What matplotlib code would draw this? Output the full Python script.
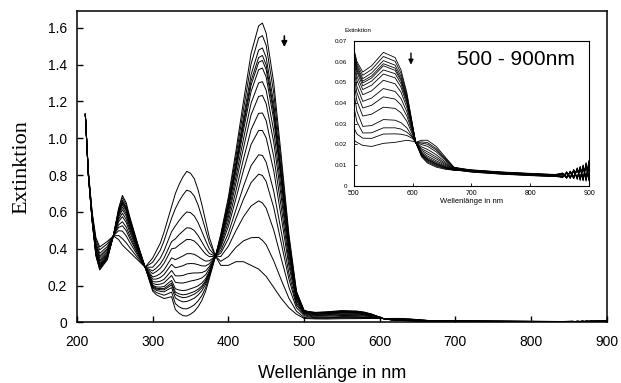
import numpy as np
import matplotlib
matplotlib.use("Agg")
import matplotlib.pyplot as plt

plt.rcParams["font.family"] = ["Liberation Sans", "DejaVu Sans"]

# wavelengths (nm) of the UV part, one row of 15 spectra per wavelength
wl_uv = [211, 215, 220, 225, 230, 240, 248, 255, 260, 265, 270, 280, 290,
         300, 305, 310, 315, 320, 325, 330, 335, 340, 345, 350, 355, 360,
         365, 370, 375, 383, 390, 400, 410, 420, 430, 440, 445, 450, 460,
         470, 480, 490]
uv_abs = [
    [1.13] * 15,
    [0.80, 0.80, 0.80, 0.80, 0.80, 0.80, 0.80, 0.81, 0.81, 0.81, 0.81, 0.81, 0.81, 0.82, 0.82],
    [0.55, 0.55, 0.55, 0.56, 0.56, 0.56, 0.56, 0.56, 0.57, 0.57, 0.58, 0.58, 0.59, 0.59, 0.60],
    [0.36, 0.365, 0.37, 0.373, 0.375, 0.378, 0.384, 0.389, 0.396, 0.403, 0.413, 0.421, 0.432, 0.447, 0.46],
    [0.285, 0.291, 0.298, 0.301, 0.304, 0.308, 0.314, 0.321, 0.330, 0.339, 0.351, 0.361, 0.375, 0.394, 0.41],
    [0.34, 0.345, 0.35, 0.353, 0.355, 0.358, 0.364, 0.369, 0.376, 0.383, 0.393, 0.401, 0.412, 0.427, 0.44],
    [0.47] * 15,
    [0.62, 0.612, 0.603, 0.598, 0.595, 0.589, 0.58, 0.571, 0.559, 0.547, 0.53, 0.516, 0.498, 0.472, 0.45],
    [0.69, 0.677, 0.663, 0.655, 0.65, 0.641, 0.627, 0.612, 0.593, 0.574, 0.547, 0.525, 0.496, 0.455, 0.42],
    [0.65, 0.638, 0.625, 0.618, 0.613, 0.605, 0.591, 0.578, 0.56, 0.543, 0.518, 0.498, 0.47, 0.433, 0.40],
    [0.57, 0.561, 0.551, 0.545, 0.542, 0.536, 0.525, 0.515, 0.502, 0.488, 0.469, 0.454, 0.433, 0.405, 0.38],
    [0.43, 0.426, 0.421, 0.418, 0.417, 0.414, 0.409, 0.404, 0.398, 0.391, 0.382, 0.375, 0.365, 0.352, 0.34],
    [0.30] * 15,
    [0.17, 0.179, 0.188, 0.193, 0.197, 0.202, 0.212, 0.222, 0.235, 0.247, 0.265, 0.28, 0.30, 0.327, 0.35],
    [0.15, 0.162, 0.174, 0.181, 0.186, 0.193, 0.206, 0.22, 0.236, 0.253, 0.277, 0.296, 0.323, 0.359, 0.39],
    [0.14, 0.155, 0.169, 0.178, 0.184, 0.192, 0.208, 0.224, 0.244, 0.265, 0.294, 0.317, 0.349, 0.392, 0.43],
    [0.13, 0.148, 0.166, 0.177, 0.184, 0.195, 0.215, 0.234, 0.26, 0.285, 0.321, 0.35, 0.389, 0.443, 0.49],
    [0.135, 0.156, 0.178, 0.19, 0.199, 0.212, 0.235, 0.258, 0.288, 0.318, 0.36, 0.394, 0.441, 0.505, 0.56],
    [0.14, 0.165, 0.189, 0.204, 0.214, 0.228, 0.255, 0.282, 0.316, 0.351, 0.40, 0.439, 0.493, 0.566, 0.63],
    [0.07, 0.102, 0.133, 0.152, 0.165, 0.183, 0.218, 0.253, 0.297, 0.341, 0.404, 0.454, 0.524, 0.618, 0.70],
    [0.05, 0.085, 0.12, 0.141, 0.155, 0.176, 0.215, 0.253, 0.302, 0.351, 0.421, 0.477, 0.554, 0.659, 0.75],
    [0.037, 0.075, 0.112, 0.135, 0.15, 0.173, 0.214, 0.255, 0.308, 0.361, 0.436, 0.496, 0.579, 0.692, 0.79],
    [0.035, 0.074, 0.114, 0.137, 0.153, 0.176, 0.219, 0.263, 0.318, 0.373, 0.451, 0.514, 0.60, 0.718, 0.82],
    [0.045, 0.083, 0.122, 0.145, 0.16, 0.183, 0.225, 0.267, 0.32, 0.374, 0.45, 0.512, 0.596, 0.711, 0.81],
    [0.06, 0.096, 0.132, 0.154, 0.168, 0.19, 0.229, 0.269, 0.319, 0.37, 0.442, 0.499, 0.578, 0.686, 0.78],
    [0.085, 0.117, 0.149, 0.168, 0.18, 0.199, 0.234, 0.269, 0.314, 0.358, 0.422, 0.472, 0.542, 0.638, 0.72],
    [0.12, 0.146, 0.172, 0.188, 0.198, 0.214, 0.242, 0.271, 0.307, 0.344, 0.396, 0.437, 0.494, 0.572, 0.64],
    [0.17, 0.189, 0.208, 0.219, 0.227, 0.238, 0.259, 0.28, 0.307, 0.333, 0.371, 0.402, 0.444, 0.501, 0.55],
    [0.24, 0.251, 0.262, 0.269, 0.273, 0.28, 0.292, 0.304, 0.319, 0.335, 0.357, 0.374, 0.398, 0.431, 0.46],
    [0.36] * 15,
    [0.48, 0.472, 0.463, 0.458, 0.455, 0.449, 0.44, 0.431, 0.419, 0.407, 0.39, 0.376, 0.358, 0.332, 0.31],
    [0.68, 0.662, 0.643, 0.632, 0.625, 0.613, 0.593, 0.573, 0.547, 0.521, 0.484, 0.454, 0.414, 0.358, 0.31],
    [0.93, 0.90, 0.87, 0.852, 0.84, 0.822, 0.789, 0.756, 0.714, 0.672, 0.612, 0.564, 0.498, 0.408, 0.33],
    [1.20, 1.157, 1.113, 1.087, 1.07, 1.043, 0.996, 0.948, 0.887, 0.826, 0.739, 0.669, 0.574, 0.443, 0.33],
    [1.46, 1.403, 1.345, 1.311, 1.288, 1.253, 1.19, 1.127, 1.046, 0.966, 0.851, 0.759, 0.632, 0.46, 0.31],
    [1.61, 1.544, 1.478, 1.438, 1.412, 1.372, 1.30, 1.227, 1.135, 1.042, 0.91, 0.805, 0.66, 0.462, 0.29],
    [1.625, 1.557, 1.49, 1.449, 1.422, 1.381, 1.307, 1.232, 1.137, 1.042, 0.907, 0.798, 0.649, 0.446, 0.27],
    [1.57, 1.504, 1.438, 1.398, 1.372, 1.332, 1.26, 1.187, 1.095, 1.002, 0.87, 0.765, 0.62, 0.422, 0.25],
    [1.30, 1.245, 1.189, 1.156, 1.134, 1.10, 1.039, 0.978, 0.90, 0.823, 0.712, 0.623, 0.501, 0.334, 0.19],
    [0.90, 0.862, 0.823, 0.80, 0.785, 0.761, 0.719, 0.677, 0.623, 0.569, 0.492, 0.43, 0.346, 0.23, 0.13],
    [0.48, 0.46, 0.44, 0.428, 0.42, 0.408, 0.386, 0.364, 0.336, 0.308, 0.268, 0.236, 0.192, 0.132, 0.08],
    [0.17, 0.164, 0.158, 0.154, 0.151, 0.148, 0.141, 0.134, 0.125, 0.116, 0.104, 0.094, 0.08, 0.061, 0.045],
]

# visible part (500 - 840 nm)
wl_vis = [500, 505, 515, 530, 550, 570, 580, 590, 600, 605, 615, 625, 640,
          655, 670, 700, 750, 800, 840]
vis_abs = [
    [0.066, 0.065, 0.064, 0.063, 0.062, 0.061, 0.06, 0.058, 0.056, 0.053, 0.05, 0.045, 0.038, 0.028, 0.022],
    [0.06, 0.059, 0.058, 0.057, 0.056, 0.055, 0.053, 0.051, 0.048, 0.045, 0.041, 0.036, 0.031, 0.025, 0.021],
    [0.055, 0.0534, 0.0518, 0.0506, 0.0497, 0.0483, 0.0465, 0.044, 0.0408, 0.0376, 0.0337, 0.0287, 0.0255, 0.023, 0.0195],
    [0.058, 0.0562, 0.0545, 0.0531, 0.0521, 0.0506, 0.0486, 0.0459, 0.0424, 0.0389, 0.0346, 0.0291, 0.0256, 0.0229, 0.019],
    [0.0645, 0.0625, 0.0605, 0.059, 0.058, 0.056, 0.054, 0.051, 0.047, 0.043, 0.038, 0.032, 0.028, 0.025, 0.0205],
    [0.062, 0.0602, 0.0583, 0.0569, 0.0558, 0.0542, 0.0522, 0.0493, 0.0456, 0.0419, 0.0374, 0.0317, 0.028, 0.0251, 0.021],
    [0.056, 0.0544, 0.0529, 0.0517, 0.0508, 0.0494, 0.0477, 0.0453, 0.0422, 0.0391, 0.0353, 0.0305, 0.0274, 0.0249, 0.0215],
    [0.045, 0.044, 0.0429, 0.0421, 0.0415, 0.0406, 0.0395, 0.0379, 0.0358, 0.0337, 0.0312, 0.028, 0.0259, 0.0243, 0.022],
    [0.029, 0.0287, 0.0283, 0.0281, 0.0279, 0.0276, 0.0272, 0.0267, 0.026, 0.0253, 0.0245, 0.0235, 0.0233, 0.0228, 0.0215],
    [0.021] * 15,
    [0.014, 0.0144, 0.0147, 0.015, 0.0152, 0.0155, 0.0159, 0.0165, 0.0172, 0.0179, 0.0188, 0.0199, 0.0206, 0.0212, 0.022],
    [0.011, 0.0115, 0.012, 0.0124, 0.0127, 0.0131, 0.0136, 0.0144, 0.0154, 0.0164, 0.0176, 0.0191, 0.0201, 0.0209, 0.022],
    [0.009, 0.0095, 0.0099, 0.0103, 0.0105, 0.0109, 0.0114, 0.0121, 0.013, 0.0139, 0.015, 0.0164, 0.0173, 0.018, 0.019],
    [0.008, 0.0083, 0.0085, 0.0088, 0.0089, 0.0091, 0.0094, 0.0099, 0.0104, 0.0109, 0.0116, 0.0124, 0.013, 0.0134, 0.014],
    [0.0075, 0.0076, 0.0076, 0.0077, 0.0077, 0.0078, 0.0079, 0.008, 0.0081, 0.0082, 0.0084, 0.0086, 0.0087, 0.0089, 0.009],
    [0.0072, 0.0068, 0.0075, 0.007, 0.0066, 0.0073, 0.0069, 0.0076, 0.0071, 0.0067, 0.0074, 0.0070, 0.0077, 0.0072, 0.0075],
    [0.0062, 0.0058, 0.0065, 0.006, 0.0056, 0.0063, 0.0059, 0.0066, 0.0061, 0.0057, 0.0064, 0.006, 0.0067, 0.0062, 0.0065],
    [0.0055, 0.0051, 0.0058, 0.0053, 0.0049, 0.0056, 0.0052, 0.0059, 0.0054, 0.005, 0.0057, 0.0053, 0.006, 0.0055, 0.0058],
    [0.005, 0.0046, 0.0053, 0.0048, 0.0044, 0.0051, 0.0047, 0.0054, 0.0049, 0.0045, 0.0052, 0.0048, 0.0055, 0.005, 0.0053],
]

# noisy end of the spectra, one row per spectrum
wl_noise = [855, 862, 868, 874, 880, 885, 890, 895, 900]
noise_abs = [
    [0.0062, 0.0038, 0.0071, 0.0042, 0.0085, 0.0030, 0.0098, 0.0040, 0.0110],
    [0.0040, 0.0068, 0.0035, 0.0079, 0.0033, 0.0092, 0.0028, 0.0105, 0.0025],
    [0.0058, 0.0045, 0.0066, 0.0037, 0.0081, 0.0026, 0.0090, 0.0022, 0.0118],
    [0.0044, 0.0063, 0.0040, 0.0074, 0.0038, 0.0088, 0.0031, 0.0100, 0.0030],
    [0.0055, 0.0036, 0.0070, 0.0045, 0.0078, 0.0034, 0.0095, 0.0028, 0.0085],
    [0.0047, 0.0060, 0.0038, 0.0069, 0.0036, 0.0083, 0.0024, 0.0108, 0.0035],
    [0.0060, 0.0042, 0.0064, 0.0034, 0.0087, 0.0040, 0.0082, 0.0033, 0.0122],
    [0.0039, 0.0065, 0.0043, 0.0077, 0.0030, 0.0094, 0.0036, 0.0096, 0.0028],
    [0.0057, 0.0040, 0.0068, 0.0040, 0.0080, 0.0028, 0.0101, 0.0026, 0.0092],
    [0.0045, 0.0061, 0.0036, 0.0072, 0.0041, 0.0086, 0.0029, 0.0112, 0.0032],
    [0.0061, 0.0037, 0.0069, 0.0039, 0.0083, 0.0033, 0.0088, 0.0038, 0.0115],
    [0.0042, 0.0066, 0.0041, 0.0076, 0.0035, 0.0090, 0.0033, 0.0099, 0.0026],
    [0.0056, 0.0043, 0.0067, 0.0036, 0.0079, 0.0031, 0.0097, 0.0030, 0.0090],
    [0.0048, 0.0059, 0.0039, 0.0071, 0.0039, 0.0085, 0.0027, 0.0107, 0.0038],
    [0.0059, 0.0041, 0.0065, 0.0043, 0.0084, 0.0036, 0.0093, 0.0035, 0.0120],
]

x_ticks = [200, 300, 400, 500, 600, 700, 800, 900]
y_ticks = [0, 0.2, 0.4, 0.6, 0.8, 1.0, 1.2, 1.4, 1.6]
y_tick_labels = ["0", "0.2", "0.4", "0.6", "0.8", "1.0", "1.2", "1.4", "1.6"]
inset_x_ticks = [500, 600, 700, 800, 900]
inset_y_ticks = [0, 0.01, 0.02, 0.03, 0.04, 0.05, 0.06, 0.07]
inset_y_labels = ["0", "0.01", "0.02", "0.03", "0.04", "0.05", "0.06", "0.07"]

wl = np.array(wl_uv + wl_vis + wl_noise)
spectra = np.vstack([np.array(uv_abs), np.array(vis_abs), np.array(noise_abs).T])

fig = plt.figure(figsize=(6.21, 3.83), dpi=100)
ax = fig.add_axes([0.124, 0.158, 0.853, 0.813])
for k in range(spectra.shape[1]):
    ax.plot(wl, spectra[:, k], color="black", lw=0.7)

ax.set_xlim(200, 900)
ax.set_ylim(0, 1.69)
ax.set_xticks(x_ticks)
ax.set_yticks(y_ticks)
ax.set_yticklabels(y_tick_labels)
ax.tick_params(direction="in", length=4, width=1, labelsize=10)
ax.tick_params(axis="x", pad=9)
ax.tick_params(axis="y", pad=7)
for s in ax.spines.values():
    s.set_linewidth(1.1)

ax.set_ylabel("Extinktion", family=["Liberation Serif", "DejaVu Serif"], fontsize=16, labelpad=12)
fig.text(332 / 621, 1 - 374 / 383, "Wellenlänge in nm", ha="center", va="center", fontsize=13)

ax.annotate("", xy=(474, 1.48), xytext=(474, 1.57),
            arrowprops=dict(arrowstyle="-|>", color="black", lw=1.2, mutation_scale=8))

# inset 500 - 900 nm
axin = fig.add_axes([0.570, 0.515, 0.3785, 0.378])
mask = wl >= 500
for k in range(spectra.shape[1]):
    axin.plot(wl[mask], spectra[mask, k], color="black", lw=0.6)
axin.set_xlim(500, 900)
axin.set_ylim(0, 0.07)
axin.set_xticks(inset_x_ticks)
axin.set_yticks(inset_y_ticks)
axin.set_yticklabels(inset_y_labels)
axin.tick_params(direction="in", length=2, width=0.6)
axin.tick_params(axis="x", labelsize=5, pad=3)
axin.tick_params(axis="y", labelsize=4.5, pad=5)
for s in axin.spines.values():
    s.set_linewidth(0.8)
axin.set_xlabel("Wellenlänge in nm", fontsize=5.5, labelpad=1)
axin.text(-0.04, 1.07, "Extinktion", transform=axin.transAxes, fontsize=4.5, ha="left", va="center")
axin.text(0.69, 0.87, "500 - 900nm", transform=axin.transAxes, fontsize=15, ha="center", va="center")
axin.annotate("", xy=(597, 0.0572), xytext=(597, 0.0655),
              arrowprops=dict(arrowstyle="-|>", color="black", lw=1.0, mutation_scale=7))

fig.savefig("out.png", dpi=100)
